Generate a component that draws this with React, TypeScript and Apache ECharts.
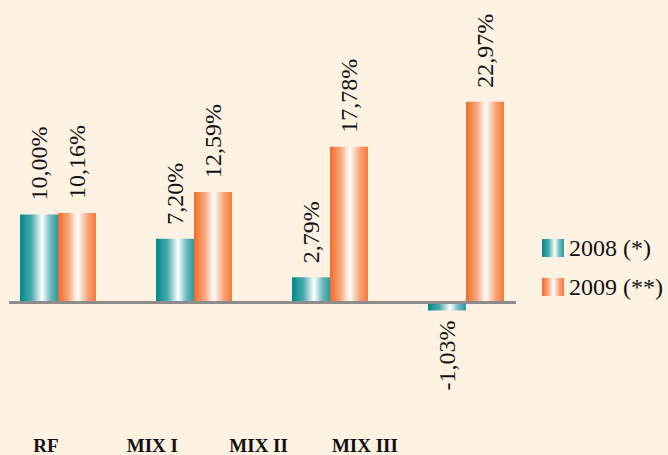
import React, { useEffect, useRef } from "react";
import * as echarts from "echarts";

const categories = ["RF", "MIX I", "MIX II", "MIX III"];
const series2008 = [10.0, 7.2, 2.79, -1.03];
const series2009 = [10.16, 12.59, 17.78, 22.97];
const seriesNames = ["2008 (*)", "2009 (**)"];

const fmt = (v: number) => v.toFixed(2).replace(".", ",") + "%";

const tealGrad = () =>
  new echarts.graphic.LinearGradient(0, 0, 1, 0, [
    { offset: 0, color: "#00878B" },
    { offset: 0.3, color: "#4AA9AD" },
    { offset: 0.58, color: "#FFFFFF" },
    { offset: 0.8, color: "#6DB9BD" },
    { offset: 1, color: "#2D9A9F" },
  ]);
const orangeGrad = () =>
  new echarts.graphic.LinearGradient(0, 0, 1, 0, [
    { offset: 0, color: "#F26A28" },
    { offset: 0.28, color: "#F9A77C" },
    { offset: 0.52, color: "#FFFFFF" },
    { offset: 0.78, color: "#F8A47A" },
    { offset: 1, color: "#F47A3A" },
  ]);

const FONT = "Liberation Serif";

// axis extents (in category-index units) so bar groups sit where the reference has them
const BAR_STEP = 136;
const BAR_FIRST = 58;
const LBL_STEP = 106.3;
const LBL_FIRST = 46;
const W = 668;

export default function App() {
  const ref = useRef<HTMLDivElement>(null);
  useEffect(() => {
    document.body.style.margin = "0";
    const chart = echarts.init(ref.current!, null, { renderer: "svg" });
    const common = { show: true, rotate: 90, verticalAlign: "middle", fontFamily: FONT, fontSize: 24, color: "#111" };
    const labelFor = (v: number) =>
      v >= 0
        ? { ...common, position: "top", align: "left", distance: 14 }
        : { ...common, position: "bottom", align: "right", distance: 10 };
    const mkData = (arr: number[]) =>
      arr.map((v, i) => ({ value: [i, v], label: labelFor(v) }));
    const labelStyle = {
      formatter: (p: any) => fmt(p.value[1]),
      fontFamily: FONT,
      fontSize: 24,
      color: "#111",
    };
    chart.setOption({
      animation: false,
      backgroundColor: "#FEF2E3",
      textStyle: { fontFamily: FONT },
      grid: [
        { left: 0, right: 0, top: 40.5, height: 348 },
        { left: 0, right: 0, top: 400, height: 20 },
      ],
      legend: {
        orient: "vertical",
        left: 542,
        top: 236,
        padding: 0,
        icon: "rect",
        itemWidth: 22,
        itemHeight: 18,
        itemGap: 15,
        textStyle: { fontFamily: FONT, fontSize: 24, color: "#111", lineHeight: 24 },
        data: seriesNames,
      },
      xAxis: [
        {
          type: "value",
          gridIndex: 0,
          min: -BAR_FIRST / BAR_STEP,
          max: (W - BAR_FIRST) / BAR_STEP,
          show: false,
          splitLine: { show: false },
        },
        {
          type: "value",
          gridIndex: 1,
          min: -LBL_FIRST / LBL_STEP,
          max: (W - LBL_FIRST) / LBL_STEP,
          position: "bottom",
          splitLine: { show: false },
          axisLine: { show: false, onZero: false },
          axisTick: { show: false },
          axisLabel: {
            customValues: [0, 1, 2, 3],
            formatter: (v: number) => categories[Math.round(v)] ?? "",
            margin: 17,
            fontFamily: FONT,
            fontWeight: "bold",
            fontSize: 19,
            color: "#111",
          },
        },
      ],
      yAxis: [
        { type: "value", gridIndex: 0, min: -10, max: 30, show: false, splitLine: { show: false } },
        { type: "value", gridIndex: 1, show: false, splitLine: { show: false } },
      ],
      series: [
        {
          name: seriesNames[0],
          type: "bar",
          xAxisIndex: 0,
          yAxisIndex: 0,
          data: mkData(series2008),
          barWidth: 38,
          barGap: "0%",
          itemStyle: { color: tealGrad() },
          label: labelStyle,
        },
        {
          name: seriesNames[1],
          type: "bar",
          xAxisIndex: 0,
          yAxisIndex: 0,
          data: mkData(series2009),
          barWidth: 38,
          barGap: "0%",
          itemStyle: { color: orangeGrad() },
          label: labelStyle,
        },
      ],
    });
    const y0 = chart.convertToPixel({ yAxisIndex: 0 } as any, 0) as number;
    chart.setOption({
      graphic: [
        {
          type: "line",
          shape: { x1: 9, y1: y0 + 1, x2: 516, y2: y0 + 1 },
          style: { stroke: "#8C8C8C", lineWidth: 3 },
          z: 10,
        },
      ],
    });
    return () => chart.dispose();
  }, []);
  return <div ref={ref} style={{ width: 668, height: 455 }} />;
}
